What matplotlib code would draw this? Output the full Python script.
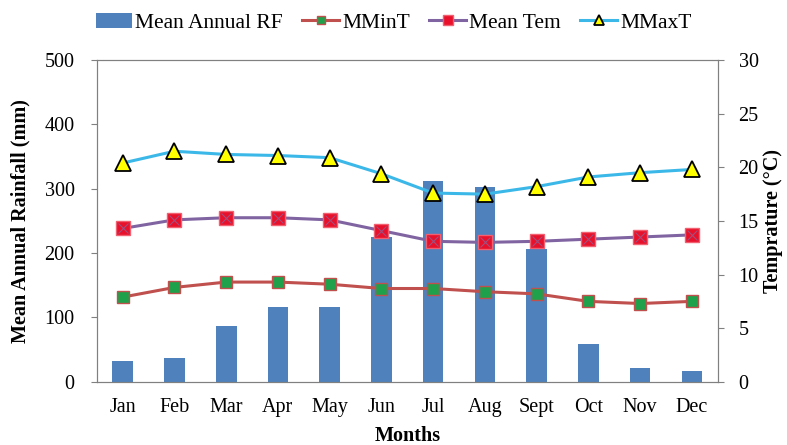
import matplotlib
matplotlib.use("Agg")
import matplotlib.pyplot as plt
import numpy as np

months = ["Jan", "Feb", "Mar", "Apr", "May", "Jun", "Jul", "Aug", "Sept", "Oct", "Nov", "Dec"]
rainfall = [33, 37, 87, 116, 116, 225, 312, 303, 207, 58, 22, 17]
mmint = [7.9, 8.8, 9.3, 9.3, 9.1, 8.7, 8.7, 8.4, 8.2, 7.5, 7.3, 7.5]
mean_tem = [14.3, 15.1, 15.3, 15.3, 15.1, 14.1, 13.1, 13.0, 13.1, 13.3, 13.5, 13.7]
mmaxt = [20.4, 21.5, 21.2, 21.1, 20.9, 19.4, 17.6, 17.5, 18.2, 19.1, 19.5, 19.8]

plt.rcParams['font.family'] = ['Liberation Serif', 'DejaVu Serif']

fig = plt.figure(figsize=(7.87, 4.45), dpi=100)
ax = fig.add_axes([0.123, 0.142, 0.789, 0.723])
x = np.arange(len(months))
b = ax.bar(x, rainfall, width=0.4, color='#4F81BD', label='Mean Annual RF', zorder=1)
ax.set_ylim(0, 500)
ax.set_xlim(-0.5, 11.5)
ax.set_yticks(range(0, 501, 100))
ax.set_xticks(x)
ax.set_xticklabels(months)
ax.tick_params(axis='x', length=0, labelsize=14.5, pad=12)
ax.tick_params(axis='y', labelsize=14.5, direction='out', length=4, pad=12, color='#808080')
ax.set_ylabel('Mean Annual Rainfall (mm)', fontsize=14.5, fontweight='bold', labelpad=10)
ax.set_xlabel('Months', fontsize=14.5, fontweight='bold', labelpad=6)
for s in ax.spines.values():
    s.set_color('#808080')

ax2 = ax.twinx()
ax2.set_ylim(0, 30)
ax2.set_yticks(range(0, 31, 5))
ax2.tick_params(axis='y', labelsize=14.5, direction='out', length=4, pad=11, color='#808080')
ax2.set_ylabel('Temprature (°C)', fontsize=14.5, fontweight='bold', labelpad=3)
for s in ax2.spines.values():
    s.set_color('#808080')

l1, = ax2.plot(x, mmint, color='#C0504D', lw=2.2, marker='s', ms=9,
               markerfacecolor='#1FA04A', markeredgecolor='#C0504D', markeredgewidth=1, label='MMinT')
l2, = ax2.plot(x, mean_tem, color='#8064A2', lw=2.2, marker='s', ms=10,
               markerfacecolor='#E8102A', markeredgecolor='#F06070', markeredgewidth=1, label='Mean Tem')
ax2.plot(x, mean_tem, ls='none', marker='x', ms=7, color='#A05080', markeredgewidth=0.8)
l3, = ax2.plot(x, mmaxt, color='#3CB8E8', lw=2.2, marker='^', ms=11,
               markerfacecolor='#FFFF00', markeredgecolor='black', markeredgewidth=1.3, label='MMaxT')

fig.legend(handles=[b, l1, l2, l3], loc='upper center', bbox_to_anchor=(0.5, 1.015), ncol=4,
           frameon=False, fontsize=15.5, handlelength=1.7, handletextpad=0.15, columnspacing=0.9,
           markerscale=0.7)

fig.savefig('out.png', dpi=100)
